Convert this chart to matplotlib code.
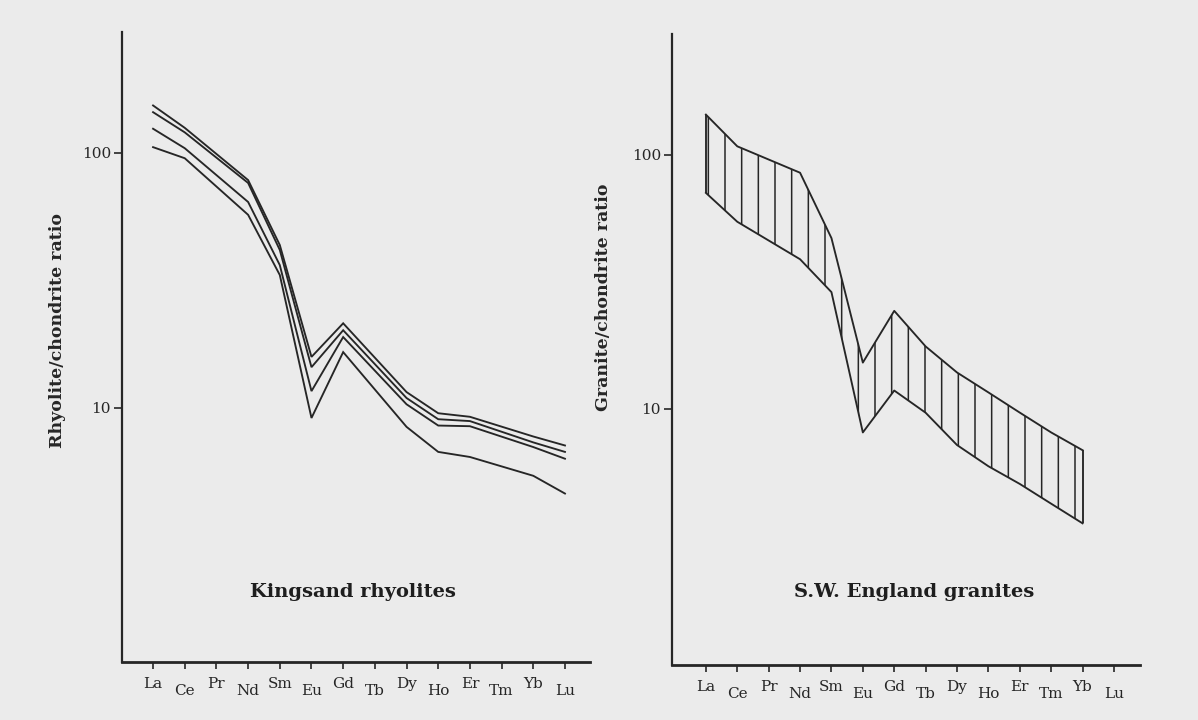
import numpy as np
import matplotlib
matplotlib.use("Agg")
import matplotlib.pyplot as plt

# ---------------- data ----------------
elements = ['La', 'Ce', 'Pr', 'Nd', 'Sm', 'Eu', 'Gd', 'Tb', 'Dy', 'Ho', 'Er', 'Tm', 'Yb', 'Lu']

# Kingsand rhyolites (rhyolite/chondrite), None = not determined
rhy_1 = [153, 125, None, 78, 43.4, 15.8, 21.4, None, 11.5, 9.5, 9.2, None, 7.7, 7.1]
rhy_2 = [144, 120, None, 76, 41.5, 14.4, 20.1, None, 10.9, 9.0, 8.85, None, 7.3, 6.7]
rhy_3 = [124, 104, None, 64, 36.2, 11.6, 18.9, None, 10.3, 8.5, 8.45, None, 7.0, 6.3]
rhy_4 = [105, 95, None, 57, 33.1, 9.1, 16.5, None, 8.4, 6.7, 6.4, None, 5.4, 4.6]

# S.W. England granites: envelope of granite/chondrite values
gran_upper = [144, 108, None, 85, 47, 15.2, 24.3, 17.6, 13.9, 11.6, 9.66, 8.07, 6.87, None]
gran_lower = [70.8, 54.5, None, 38.8, 28.8, 8.07, 11.8, 9.65, 7.2, 5.94, 5.06, 4.23, 3.54, None]

left_title = 'Kingsand rhyolites'
right_title = 'S.W. England granites'
left_ylabel = 'Rhyolite/chondrite ratio'
right_ylabel = 'Granite/chondrite ratio'

# ---------------- style ----------------
BG = '#ebebeb'
INK = '#262626'
plt.rcParams['font.family'] = ['DejaVu Serif']
plt.rcParams['hatch.linewidth'] = 1.1

fig = plt.figure(figsize=(11.98, 7.2), dpi=100, facecolor=BG)


def series(vals):
    idx = np.array([i for i, v in enumerate(vals) if v is not None])
    v = np.array([v for v in vals if v is not None], dtype=float)
    return idx, v


def style_axes(ax, xlim, ylim):
    ax.set_facecolor(BG)
    ax.set_yscale('log')
    ax.set_xlim(*xlim)
    ax.set_ylim(*ylim)
    for s in ('top', 'right'):
        ax.spines[s].set_visible(False)
    ax.spines['left'].set_linewidth(1.6)
    ax.spines['bottom'].set_linewidth(2.0)
    ax.spines['left'].set_color(INK)
    ax.spines['bottom'].set_color(INK)
    ax.set_yticks([10, 100])
    ax.set_yticklabels(['10', '100'])
    ax.yaxis.set_minor_locator(matplotlib.ticker.NullLocator())
    ax.tick_params(axis='y', length=6, width=1.2, colors=INK, labelsize=11, pad=2)
    ax.set_xticks(range(len(elements)))
    ax.set_xticklabels(elements)
    ax.tick_params(axis='x', length=5, width=1.2, colors=INK, labelsize=11)
    for i, t in enumerate(ax.xaxis.get_major_ticks()):
        t.set_pad(6 if i % 2 == 0 else 11)


# ---------------- left panel ----------------
axL = fig.add_axes([122 / 1198, 1 - 662 / 720, (590 - 122) / 1198, (662 - 32) / 720])
style_axes(axL, (-0.98, 13.79), (1.005, 297))
for vals in (rhy_1, rhy_2, rhy_3, rhy_4):
    xi, yv = series(vals)
    axL.plot(xi, yv, color=INK, lw=1.35, solid_joinstyle='miter')
fig.text(58 / 1198, 1 - 331 / 720, left_ylabel, rotation=90, ha='center', va='center',
         fontsize=12.5, fontweight='bold', color=INK)
fig.text(353 / 1198, 1 - 592 / 720, left_title, ha='center', va='center',
         fontsize=14, fontweight='bold', color='#1e1e1e')

# ---------------- right panel ----------------
axR = fig.add_axes([672 / 1198, 1 - 665 / 720, (1140 - 672) / 1198, (665 - 34) / 720])
style_axes(axR, (-1.08, 13.83), (0.98, 299))
xu, yu = series(gran_upper)
xl, yl = series(gran_lower)
axR.fill_between(xu, yl, yu, facecolor='none', edgecolor=INK, linewidth=0, hatch='|')
axR.plot(xu, yu, color=INK, lw=1.35)
axR.plot(xl, yl, color=INK, lw=1.35)
axR.vlines([xu[0], xu[-1]], [yl[0], yl[-1]], [yu[0], yu[-1]], color=INK, lw=1.35)
fig.text(604 / 1198, 1 - 297 / 720, right_ylabel, rotation=90, ha='center', va='center',
         fontsize=12.5, fontweight='bold', color=INK)
fig.text(914 / 1198, 1 - 592 / 720, right_title, ha='center', va='center',
         fontsize=14, fontweight='bold', color='#1e1e1e')

fig.savefig('out.png', dpi=100, facecolor=BG)
